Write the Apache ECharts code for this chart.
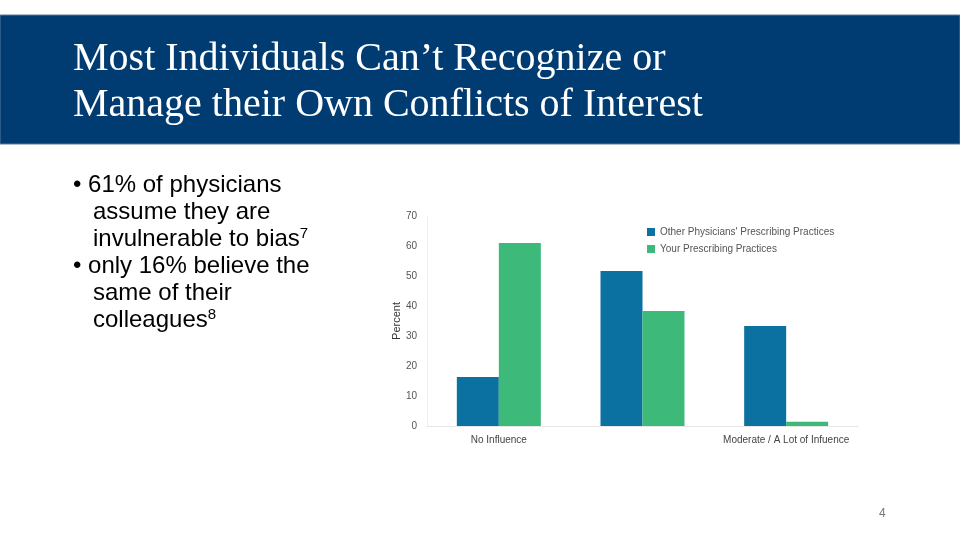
<!DOCTYPE html>
<html>
<head>
<meta charset="utf-8">
<script src="https://cdn.jsdelivr.net/npm/echarts@6/dist/echarts.min.js"></script>
<style>
  html, body { margin: 0; padding: 0; background: #fff; }
  #chart { width: 960px; height: 540px; }
</style>
</head>
<body>
<div id="chart"></div>
<script>
// Chart data
const categories = ['No Influence', 'A Little Influence', 'Moderate / A Lot of Infuence']
const otherPhysicians = [16.3, 51.7, 33.3]
const yourPractices = [61, 38.3, 1.4]
const seriesNames = ["Other Physicians' Prescribing Practices", 'Your Prescribing Practices']

const chart = echarts.init(document.getElementById('chart'))

const bodyFont = 'Liberation Sans, Arial, sans-serif'

chart.setOption({
  animation: false,
  graphic: [
    // Title banner
    {
      type: 'rect',
      shape: { x: 0, y: 15, width: 960, height: 129 },
      style: { fill: '#003c71', stroke: '#5a7a9a', lineWidth: 1 }
    },
    {
      type: 'text', left: 73, top: 36,
      style: {
        text: 'Most Individuals Can\u2019t Recognize or\nManage their Own Conflicts of Interest',
        fill: '#fff', font: '40px "Liberation Serif", serif', lineHeight: 46
      }
    },
    // Bullets
    {
      type: 'text', left: 73, top: 172,
      style: {
        text: '\u2022 61% of physicians\n   assume they are\n   invulnerable to bias{sup|7}\n\u2022 only 16% believe the\n   same of their\n   colleagues{sup|8}',
        fill: '#000', font: '24px ' + bodyFont, lineHeight: 27,
        rich: { sup: { fontSize: 15, verticalAlign: 'top', padding: [0, 0, 10, 0], fill: '#000', fontFamily: bodyFont } }
      }
    },
    // Page number
    {
      type: 'text', left: 879, top: 508,
      style: { text: '4', fill: '#777', font: '12px ' + bodyFont }
    }
  ],
  legend: {
    orient: 'vertical',
    left: 642, top: 222,
    itemWidth: 8, itemHeight: 8, itemGap: 7,
    icon: 'rect',
    textStyle: { fontSize: 10, color: '#555', fontFamily: bodyFont }
  },
  grid: { left: 427, right: 102, top: 216, bottom: 114 },
  xAxis: {
    type: 'category',
    data: categories,
    axisLine: { lineStyle: { color: '#e6e6e6' } },
    axisTick: { show: false },
    axisLabel: { fontSize: 10, color: '#444', fontFamily: bodyFont, margin: 9 }
  },
  yAxis: {
    type: 'value',
    min: 0, max: 70, interval: 10,
    name: 'Percent', nameLocation: 'middle', nameGap: 22,
    nameTextStyle: { fontSize: 11, color: '#333', fontFamily: bodyFont },
    axisLine: { show: true, lineStyle: { color: '#eee' } },
    splitLine: { show: false },
    axisLabel: { fontSize: 10, color: '#555', fontFamily: bodyFont, margin: 10 }
  },
  series: [
    {
      name: seriesNames[0], type: 'bar', data: otherPhysicians,
      itemStyle: { color: '#0a71a0' }, barWidth: 42, barGap: '0%'
    },
    {
      name: seriesNames[1], type: 'bar', data: yourPractices,
      itemStyle: { color: '#3dba7a' }, barWidth: 42
    }
  ]
})
</script>
</body>
</html>
